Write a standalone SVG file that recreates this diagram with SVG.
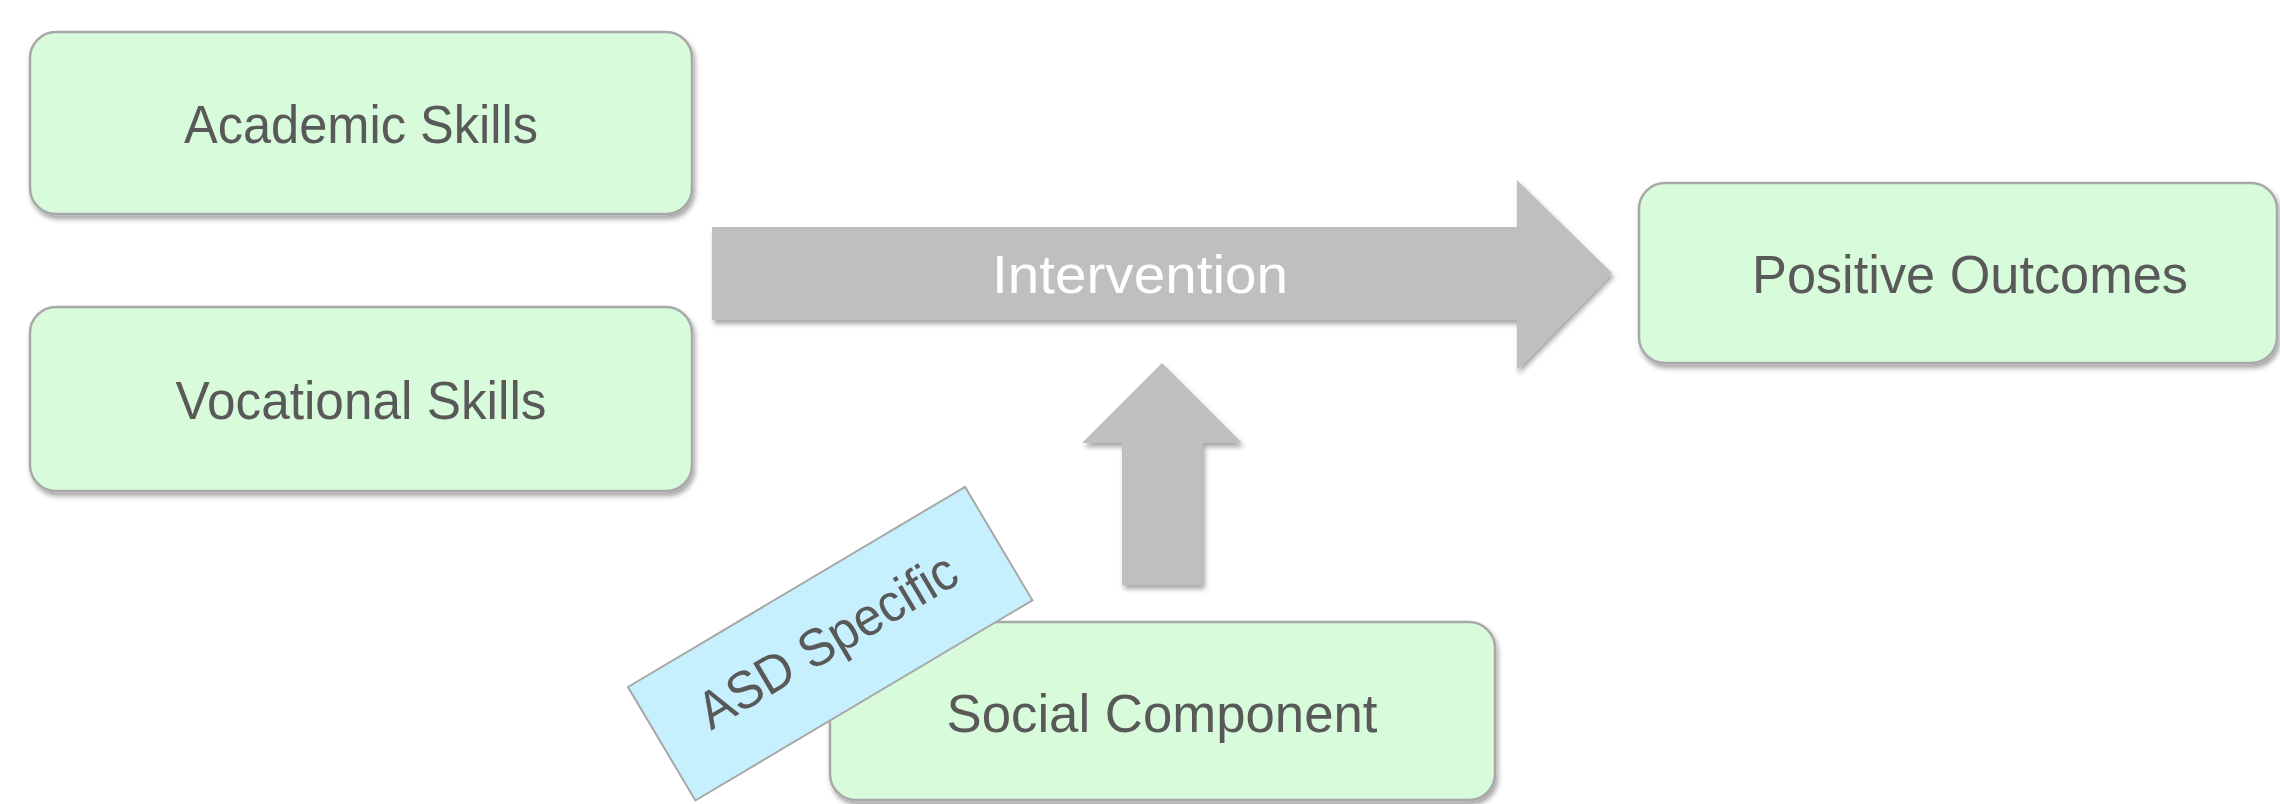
<svg xmlns="http://www.w3.org/2000/svg" width="2280" height="804" viewBox="0 0 2280 804">
<defs>
<filter id="sh" x="-10%" y="-10%" width="120%" height="130%">
<feDropShadow dx="2" dy="4" stdDeviation="2.5" flood-color="#000" flood-opacity="0.35"/>
</filter>
</defs>
<style>
.box{fill:#d8fcdb;stroke:#a8a8a8;stroke-width:2.5}
.lbl{font-family:"Liberation Sans",Arial,sans-serif;font-size:53px;fill:#595959;text-anchor:middle}
.arr{fill:#bfbfbf}
.wl{font-family:"Liberation Sans",Arial,sans-serif;font-size:53px;fill:#ffffff;text-anchor:middle}
</style>
<rect width="2280" height="804" fill="#ffffff"/>
<g id="connectors">
<g id="intervention">
<polygon class="arr" filter="url(#sh)" points="712,227 1517,227 1517,180 1612,273 1517,370 1517,320 712,320"/>
<text class="wl" x="1140" y="293" textLength="296" lengthAdjust="spacingAndGlyphs">Intervention</text>
</g>
<polygon id="up-arrow" class="arr" filter="url(#sh)" points="1162,363 1242,443 1203,443 1203,585 1122,585 1122,443 1082,443"/>
</g>
<g id="academic">
<rect class="box" filter="url(#sh)" x="30" y="32" width="662" height="182" rx="26"/>
<text class="lbl" x="361" y="143" textLength="354" lengthAdjust="spacingAndGlyphs">Academic Skills</text>
</g>
<g id="vocational">
<rect class="box" filter="url(#sh)" x="30" y="307" width="662" height="184" rx="26"/>
<text class="lbl" x="361" y="419" textLength="371" lengthAdjust="spacingAndGlyphs">Vocational Skills</text>
</g>
<g id="outcomes">
<rect class="box" filter="url(#sh)" x="1639" y="183" width="638" height="180" rx="26"/>
<text class="lbl" x="1970" y="293" textLength="436" lengthAdjust="spacingAndGlyphs">Positive Outcomes</text>
</g>
<g id="social">
<rect class="box" filter="url(#sh)" x="830" y="622" width="665" height="178" rx="26"/>
<text class="lbl" x="1162" y="732" textLength="431" lengthAdjust="spacingAndGlyphs">Social Component</text>
</g>
<g id="asd" transform="translate(628,687) rotate(-30.7)">
<rect x="0" y="0" width="392" height="132" fill="#c6f0fd" stroke="#a8a8a8" stroke-width="2"/>
<text class="lbl" x="195" y="80" textLength="292" lengthAdjust="spacingAndGlyphs">ASD Specific</text>
</g>
</svg>
